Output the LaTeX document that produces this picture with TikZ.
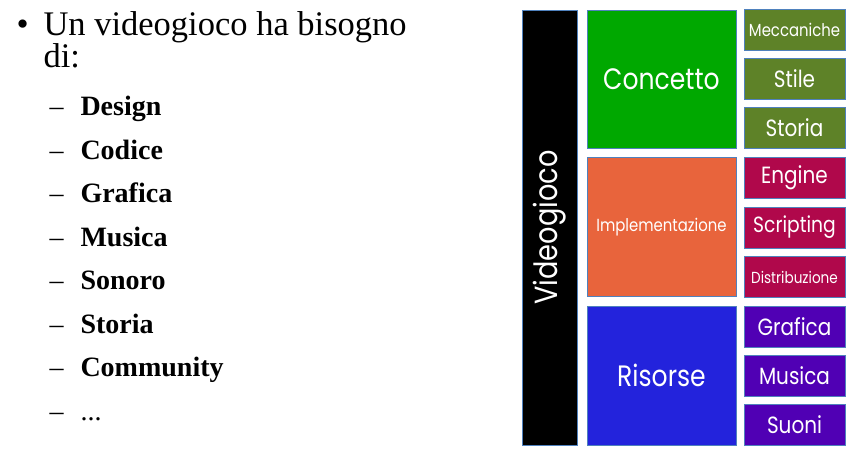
\documentclass[tikz,border=0pt]{standalone}
\usepackage{fontspec}
\setmainfont{Liberation Serif}
\newfontfamily\boxfont[FakeStretch=0.85]{Poppins}
\usetikzlibrary{positioning}
\definecolor{vgGreen}{HTML}{00A800}
\definecolor{vgOlive}{HTML}{5E8228}
\definecolor{vgOrange}{HTML}{E8643C}
\definecolor{vgCrimson}{HTML}{B0084B}
\definecolor{vgBlue}{HTML}{2323DC}
\definecolor{vgPurple}{HTML}{5000B4}
\definecolor{vgEdge}{HTML}{4F81BD}
\tikzset{
  boxBig/.style={rectangle, draw=vgEdge, line width=0.8pt, text=white,
                 minimum width=149pt, minimum height=139pt, inner sep=0pt,
                 font=\boxfont\fontsize{29.5}{29.5}\selectfont},
  boxSmall/.style={rectangle, draw=vgEdge, line width=0.8pt, text=white,
                   minimum width=101pt, minimum height=41pt, inner sep=0pt,
                   font=\boxfont\fontsize{23.5}{23.5}\selectfont},
  itemSub/.style={anchor=base west, font=\bfseries\fontsize{28}{28}\selectfont},
  itemDash/.style={anchor=base west, font=\fontsize{28}{28}\selectfont},
}
\begin{document}
\begin{tikzpicture}[x=1pt, y=-1pt]
    \useasboundingbox (0,0) rectangle (857,456);

    % elenco a sinistra
    \node[anchor=base west, font=\fontsize{34.5}{34.5}\selectfont] (bul) at (13,35) {\textbullet};
    \node[anchor=base west, font=\fontsize{34.5}{34.5}\selectfont] (t1) at (40,35) {Un videogioco ha bisogno};
    \node[anchor=base west, font=\fontsize{34.5}{34.5}\selectfont] (t2) at (40,67) {di:};
    \node[itemDash] (d1) at (46,115) {--};  \node[itemSub] (s1) at (77,115) {Design};
    \node[itemDash] (d2) at (46,159) {--};  \node[itemSub] (s2) at (77,159) {Codice};
    \node[itemDash] (d3) at (46,202) {--};  \node[itemSub] (s3) at (77,202) {Grafica};
    \node[itemDash] (d4) at (46,246) {--};  \node[itemSub] (s4) at (77,246) {Musica};
    \node[itemDash] (d5) at (46,289) {--};  \node[itemSub] (s5) at (77,289) {Sonoro};
    \node[itemDash] (d6) at (46,333) {--};  \node[itemSub] (s6) at (77,333) {Storia};
    \node[itemDash] (d7) at (46,376) {--};  \node[itemSub] (s7) at (77,376) {Community};
    \node[itemDash] (d8) at (46,420) {--};  \node[itemDash] (s8) at (77,420) {...};

    % colonna Videogioco
    \node[rectangle, fill=black, draw=vgEdge, line width=0.8pt, text=white,
          minimum width=55pt, minimum height=435pt, inner sep=0pt] (vg) at (549.5,227.5) {};
    \node[rotate=90, text=white, font=\boxfont\fontsize{32}{32}\selectfont] (vgLabel) at (vg.center) {Videogioco};

    % aree principali
    \node[boxBig, fill=vgGreen, minimum height=138pt] (conc) at (661.5,79) {Concetto};
    \node[boxBig, fill=vgOrange, font=\boxfont\fontsize{17.5}{17.5}\selectfont] (impl) at (661.5,227) {Implementazione};
    \node[boxBig, fill=vgBlue] (ris) at (661.5,375.5) {Risorse};

    % sotto-aree
    \node[boxSmall, fill=vgOlive, font=\boxfont\fontsize{17.5}{17.5}\selectfont] (mecc) at (794.5,30) {Meccaniche};
    \node[boxSmall, fill=vgOlive] (stile) at (794.5,79) {Stile};
    \node[boxSmall, fill=vgOlive] (storia) at (794.5,128) {Storia};
    \node[boxSmall, fill=vgCrimson] (eng) at (794.5,177.5) {Engine};
    \node[boxSmall, fill=vgCrimson, font=\boxfont\fontsize{22}{22}\selectfont] (scr) at (794.5,227.5) {Scripting};
    \node[boxSmall, fill=vgCrimson, font=\boxfont\fontsize{16}{16}\selectfont] (distr) at (794.5,277) {Distribuzione};
    \node[boxSmall, fill=vgPurple] (graf) at (794.5,326.5) {Grafica};
    \node[boxSmall, fill=vgPurple] (mus) at (794.5,376) {Musica};
    \node[boxSmall, fill=vgPurple] (suoni) at (794.5,425) {Suoni};
\end{tikzpicture}
\end{document}
